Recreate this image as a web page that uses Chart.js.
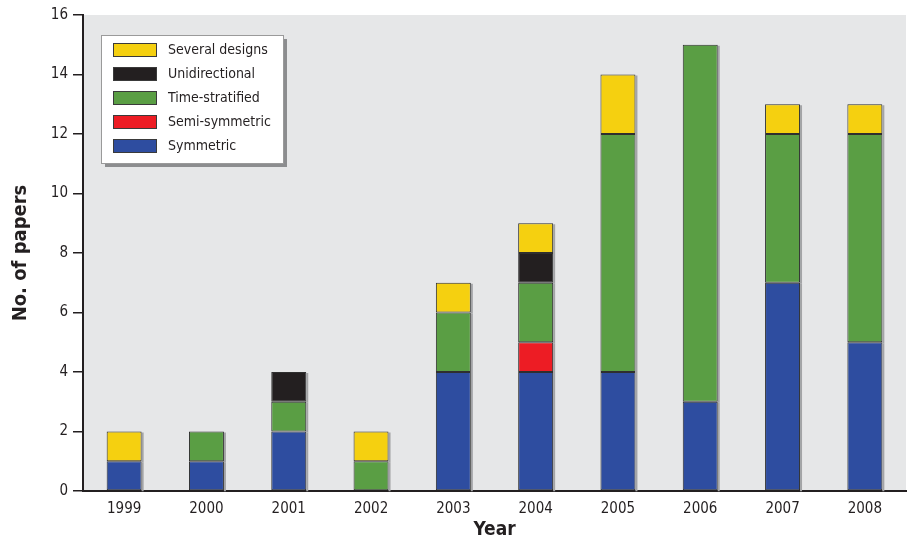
<!DOCTYPE html>
<html>
<head>
<meta charset="utf-8">
<script src="https://cdn.jsdelivr.net/npm/chart.js@4.4.0/dist/chart.umd.min.js"></script>
<style>
  html, body { margin: 0; padding: 0; background: #fff; }
  #wrap { width: 907px; height: 541px; position: relative; }
</style>
</head>
<body>
<div id="wrap"><canvas id="myChart"></canvas></div>
<script>
const years = ['1999', '2000', '2001', '2002', '2003', '2004', '2005', '2006', '2007', '2008'];
const symmetric      = [1, 1, 2, 0, 4, 4, 4, 3, 7, 5];
const semiSymmetric  = [0, 0, 0, 0, 0, 1, 0, 0, 0, 0];
const timeStratified = [0, 1, 1, 1, 2, 2, 8, 12, 5, 7];
const unidirectional = [0, 0, 1, 0, 0, 1, 0, 0, 0, 0];
const severalDesigns = [1, 0, 0, 1, 1, 1, 2, 0, 1, 1];
const yTicks = [0, 2, 4, 6, 8, 10, 12, 14, 16];

const FONT = "'DejaVu Sans Condensed', 'Liberation Sans Narrow', 'Liberation Sans', Arial, sans-serif";

function makeSet(label, data, color) {
    return {
        label: label,
        data: data,
        backgroundColor: color,
        borderColor: '#2f2f2f',
        borderWidth: 1,
        borderSkipped: false,
        barPercentage: 0.85,
        categoryPercentage: 0.5
    };
}

// plot background + bar shadow
const plotBg = {
    id: 'plotBg',
    beforeDraw(chart) {
        const a = chart.chartArea;
        const ctx = chart.ctx;
        ctx.save();
        ctx.fillStyle = '#e6e7e8';
        ctx.fillRect(a.left, a.top, a.right - a.left, a.bottom - a.top);
        ctx.restore();
    },
    beforeDatasetsDraw(chart) {
        const ctx = chart.ctx;
        ctx.save();
        ctx.fillStyle = '#a3a4a6';
        chart.data.datasets.forEach(function (ds, i) {
            chart.getDatasetMeta(i).data.forEach(function (bar) {
                const p = bar.getProps(['x', 'y', 'base', 'width'], true);
                if (Math.abs(p.base - p.y) < 0.5) return;
                ctx.fillRect(p.x + p.width / 2, Math.min(p.y, p.base) + 1, 2, Math.abs(p.base - p.y));
            });
        });
        ctx.restore();
    }
};

// legend box drawn inside the plot, top-left
const boxLegend = {
    id: 'boxLegend',
    afterDraw(chart) {
        const ctx = chart.ctx;
        const x = 101, y = 35, w = 182, h = 128;
        ctx.save();
        ctx.fillStyle = '#8c8d8f';
        ctx.fillRect(x + 4, y + 4, w, h);
        ctx.fillStyle = '#ffffff';
        ctx.fillRect(x, y, w, h);
        ctx.strokeStyle = '#9a9a9a';
        ctx.lineWidth = 1;
        ctx.strokeRect(x + 0.5, y + 0.5, w, h);
        const sets = chart.data.datasets.slice().reverse();
        ctx.font = '14px ' + FONT;
        ctx.textBaseline = 'middle';
        sets.forEach(function (ds, i) {
            const cy = y + 15 + i * 24;
            ctx.fillStyle = ds.backgroundColor;
            ctx.fillRect(113, cy - 7, 44, 14);
            ctx.strokeStyle = '#3a3a3a';
            ctx.strokeRect(113.5, cy - 6.5, 43, 13);
            ctx.fillStyle = '#231f20';
            ctx.fillText(ds.label, 168, cy);
        });
        ctx.restore();
    }
};

const ctx = document.getElementById('myChart').getContext('2d');
const paperChart = new Chart(ctx, {
    type: 'bar',
    data: {
        labels: years,
        datasets: [
            makeSet('Symmetric', symmetric, '#2e4da0'),
            makeSet('Semi-symmetric', semiSymmetric, '#ed1c24'),
            makeSet('Time-stratified', timeStratified, '#5a9e44'),
            makeSet('Unidirectional', unidirectional, '#231f20'),
            makeSet('Several designs', severalDesigns, '#f5d010')
        ]
    },
    options: {
        responsive: true,
        maintainAspectRatio: false,
        animation: false,
        layout: { padding: { top: 15, right: 1, left: 0, bottom: 0 } },
        plugins: {
            legend: { display: false },
            tooltip: { enabled: false }
        },
        scales: {
            x: {
                stacked: true,
                grid: { display: false, drawTicks: false },
                border: { color: '#231f20', width: 2 },
                ticks: {
                    color: '#231f20',
                    padding: 9,
                    font: { family: FONT, size: 15 }
                },
                title: {
                    display: true,
                    text: 'Year',
                    color: '#231f20',
                    padding: { top: 0, bottom: 0 },
                    font: { family: FONT, size: 19, weight: 'bold' }
                },
                afterFit(scale) { scale.height = 50; }
            },
            y: {
                stacked: true,
                min: 0,
                max: 16,
                afterBuildTicks(scale) {
                    scale.ticks = yTicks.map(function (v) { return { value: v }; });
                },
                grid: {
                    drawOnChartArea: false,
                    drawTicks: true,
                    tickLength: 10,
                    color: '#231f20',
                    lineWidth: 1.5
                },
                border: { color: '#231f20', width: 2 },
                ticks: {
                    color: '#231f20',
                    padding: 5,
                    font: { family: FONT, size: 15 }
                },
                title: {
                    display: true,
                    text: 'No. of papers',
                    color: '#231f20',
                    padding: { top: 9, bottom: 0 },
                    font: { family: FONT, size: 20, weight: 'bold' }
                },
                afterFit(scale) { scale.width = 83; }
            }
        }
    },
    plugins: [plotBg, boxLegend]
});
</script>
</body>
</html>
